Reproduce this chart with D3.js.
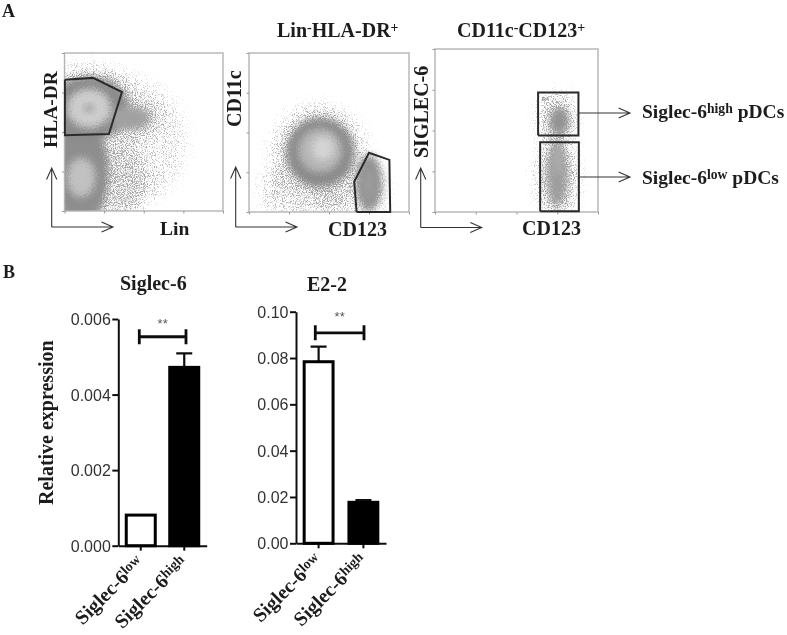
<!DOCTYPE html>
<html>
<head>
<meta charset="utf-8">
<script src="https://cdn.jsdelivr.net/npm/d3@7"></script>
<style>
  html, body { margin: 0; background: #fff; }
  svg { display: block; }
  .lab { font-family: "Liberation Serif", serif; font-weight: bold; fill: #1c1c1c; }
  .num { font-family: "Liberation Sans", sans-serif; fill: #333; }
</style>
</head>
<body>
<script>
// flow panels: every cloud is x, y, spread x, spread y (log decades) and a density 0..1
const flowTicks = [0, 1, 2, 3, 4]

const lin_sparse = [[1.3, 1.75, 1.8, 1.75, 0.5], [1.2, 0.7, 0.95, 1.0, 0.8], [1.6, 2.35, 0.85, 0.6, 0.8], [0.6, 2.95, 1.15, 0.75, 0.8]]
const lin_dense = [[0.4, 1.0, 0.72, 1.4, 0.52], [0.62, 2.6, 1.0, 0.82, 0.5], [1.65, 2.35, 0.52, 0.3, 0.4],
    [0.42, 0.85, 0.36, 0.5, 0.8], [0.62, 2.6, 0.56, 0.5, 0.86], [0.62, 2.6, 0.12, 0.1, 0.6]]
const lin_gate = [[0.01, 3.32], [0.72, 3.37], [1.45, 3.01], [1.12, 1.95], [0.01, 1.92], [0.01, 3.32]]

const cd11c_sparse = [[1.75, 1.5, 1.22, 1.2, 0.75], [1.35, 0.55, 1.15, 0.8, 0.6], [2.5, 0.5, 1.0, 0.7, 0.6], [1.75, 2.4, 0.5, 0.25, 0.35]]
const cd11c_dense = [[1.78, 1.5, 0.86, 0.88, 0.5], [3.0, 0.73, 0.34, 0.72, 0.46],
    [1.78, 1.55, 0.55, 0.56, 0.74], [1.85, 1.6, 0.28, 0.3, 0.9], [3.0, 0.7, 0.12, 0.38, 0.6]]
const cd11c_gate = [[2.69, 0], [2.63, 0.76], [3.0, 1.49], [3.51, 1.31], [3.53, 0], [2.69, 0]]

const siglec_sparse = [[3.0, 2.3, 0.48, 0.66, 0.95], [3.0, 0.86, 0.5, 1.05, 1], [3.0, 1.75, 0.34, 0.3, 0.9]]
const siglec_dense = [[3.05, 2.22, 0.24, 0.34, 0.46], [3.0, 0.95, 0.24, 0.8, 0.42], [3.02, 1.25, 0.08, 0.36, 0.72]]
const siglec_gates = [
    [[2.53, 1.88], [3.52, 1.88], [3.52, 2.93], [2.53, 2.93], [2.53, 1.88]],
    [[2.58, 0.02], [3.53, 0.02], [3.53, 1.71], [2.58, 1.71], [2.58, 0.02]],
]

// bar panels
const groups = ["Siglec-6low", "Siglec-6high"]
const siglec_values = [0.00081, 0.00472]
const siglec_errors = [0.00081, 0.00509]
const siglec_ticks = [0, 0.002, 0.004, 0.006]
const siglec_bracket = 0.00553
const e22_values = [0.0784, 0.0177]
const e22_errors = [0.0849, 0.0187]
const e22_ticks = [0, 0.02, 0.04, 0.06, 0.08, 0.1]
const e22_bracket = 0.0909

const density = d3.scaleLinear().domain([0, 0.5, 1]).range(["#ffffff", "#8a8a8a", "#e6e6e6"])

const svg = d3.select("body").append("svg").attr("width", 787).attr("height", 635)
const defs = svg.append("defs")

const soften = defs.append("filter").attr("id", "soften")
    .attr("filterUnits", "userSpaceOnUse").attr("x", 0).attr("y", 0).attr("width", 787).attr("height", 635)
soften.append("feGaussianBlur").attr("stdDeviation", 0.5)

// dense part of a cloud: blurred, edges roughened with noise
const smooth = defs.append("filter").attr("id", "smooth")
    .attr("x", "-30%").attr("y", "-30%").attr("width", "160%").attr("height", "160%")
smooth.append("feGaussianBlur").attr("in", "SourceGraphic").attr("stdDeviation", 3.5).attr("result", "soft")
smooth.append("feTurbulence").attr("type", "fractalNoise").attr("baseFrequency", 0.8)
    .attr("numOctaves", 2).attr("seed", 9).attr("result", "turb")
smooth.append("feDisplacementMap").attr("in", "soft").attr("in2", "turb").attr("scale", 9)
    .attr("xChannelSelector", "R").attr("yChannelSelector", "G")

// grain: blurred cloud alpha plus noise, thresholded, gives the dots of a dot plot
const speckle = defs.append("filter").attr("id", "speckle")
    .attr("x", "-30%").attr("y", "-30%").attr("width", "160%").attr("height", "160%")
    .attr("color-interpolation-filters", "sRGB")
speckle.append("feGaussianBlur").attr("in", "SourceGraphic").attr("stdDeviation", 8).attr("result", "soft")
speckle.append("feTurbulence").attr("type", "fractalNoise").attr("baseFrequency", 0.9)
    .attr("numOctaves", 2).attr("seed", 4).attr("result", "turb")
speckle.append("feColorMatrix").attr("in", "turb").attr("type", "matrix")
    .attr("values", "0 0 0 0 0  0 0 0 0 0  0 0 0 0 0  3.2 0 0 0 -1.2").attr("result", "noise")
speckle.append("feComposite").attr("in", "soft").attr("in2", "noise").attr("operator", "arithmetic")
    .attr("k1", 0).attr("k2", 1).attr("k3", 1).attr("k4", -1).attr("result", "mix")
const transfer = speckle.append("feComponentTransfer").attr("in", "mix").attr("result", "dots")
transfer.append("feFuncA").attr("type", "linear").attr("slope", 1.5).attr("intercept", 0)
speckle.append("feFlood").attr("flood-color", "#a6a6a6").attr("result", "tone")
speckle.append("feComposite").attr("in", "tone").attr("in2", "dots").attr("operator", "in")

const root = svg.append("g").attr("filter", "url(#soften)")

function label(x, y, text, size, rotate) {
    const t = root.append("text").attr("class", "lab")
        .attr("transform", `translate(${x},${y})` + (rotate ? ` rotate(${rotate})` : ""))
        .style("font-size", size + "px")
    for (const part of text) {
        // strings are plain, [string] is a superscript
        if (typeof part === "string") {
            t.append("tspan").text(part)
        } else {
            t.append("tspan").attr("baseline-shift", "35%").style("font-size", "0.7em").text(part[0])
        }
    }
    return t
}

function arrow(x1, y1, x2, y2) {
    const a = Math.atan2(y2 - y1, x2 - x1)
    const head = [a + 2.72, a - 2.72].map(b => [x2 + 12.5 * Math.cos(b), y2 + 12.5 * Math.sin(b)])
    root.append("path").attr("fill", "none").attr("stroke", "#333").attr("stroke-width", 1.1)
        .attr("d", `M${x1},${y1}L${x2},${y2}M${head[0]}L${x2},${y2}L${head[1]}`)
}

function flow_panel(id, box, sparse, dense, gates) {
    const x = d3.scaleLinear().domain([0, 4]).range([box.left, box.right])
    const y = d3.scaleLinear().domain([0, 4]).range([box.bottom, box.top])

    defs.append("clipPath").attr("id", id).append("rect")
        .attr("x", box.left).attr("y", box.top)
        .attr("width", box.right - box.left).attr("height", box.bottom - box.top)

    const g = root.append("g")
    const clip = g.append("g").attr("clip-path", `url(#${id})`)

    clip.append("g").attr("filter", "url(#speckle)").selectAll("ellipse").data(sparse).join("ellipse")
        .attr("cx", d => x(d[0])).attr("cy", d => y(d[1]))
        .attr("rx", d => x(d[2]) - x(0)).attr("ry", d => y(0) - y(d[3]))
        .attr("fill", "#000").attr("fill-opacity", d => d[4])

    clip.append("g").selectAll("ellipse").data(dense).join("ellipse")
        .attr("filter", "url(#smooth)")
        .attr("cx", d => x(d[0])).attr("cy", d => y(d[1]))
        .attr("rx", d => x(d[2]) - x(0)).attr("ry", d => y(0) - y(d[3]))
        .attr("fill", d => density(d[4]))

    g.append("rect").attr("x", box.left).attr("y", box.top)
        .attr("width", box.right - box.left).attr("height", box.bottom - box.top)
        .attr("fill", "none").attr("stroke", "#b4b4b4").attr("stroke-width", 1.4)

    const bottom = g.append("g").attr("transform", `translate(0,${box.bottom})`)
        .call(d3.axisBottom(x).tickValues(flowTicks).tickFormat("").tickSize(2.5))
    const left = g.append("g").attr("transform", `translate(${box.left},0)`)
        .call(d3.axisLeft(y).tickValues(flowTicks).tickFormat("").tickSize(2.5))
    bottom.select(".domain").remove()
    left.select(".domain").remove()
    g.selectAll(".tick line").attr("stroke", "#999")

    const line = d3.line().x(d => x(d[0])).y(d => y(d[1]))
    g.selectAll(".gate").data(gates).join("path").attr("class", "gate")
        .attr("d", line).attr("fill", "none").attr("stroke", "#2c2c2c").attr("stroke-width", 2)
    return { x, y }
}

function bar_panel(box, values, errors, ticks, fmt, bracket, pad) {
    const x = d3.scaleBand().domain(groups).range([box.left, box.right]).paddingInner(pad).paddingOuter(0.16)
    const y = d3.scaleLinear().domain([0, ticks[ticks.length - 1]]).range([box.bottom, box.top])
    const g = root.append("g")

    const yaxis = g.append("g").attr("transform", `translate(${box.left},0)`)
        .call(d3.axisLeft(y).tickValues(ticks).tickFormat(d3.format(fmt)).tickSize(6).tickSizeOuter(0))
    yaxis.selectAll("line,path").attr("stroke", "#111").attr("stroke-width", 2)
    yaxis.selectAll("text").attr("class", "num").style("font-size", "16px").attr("x", -7.5).attr("dy", "0.34em")

    const xaxis = g.append("g").attr("transform", `translate(0,${box.bottom})`)
        .call(d3.axisBottom(x).tickFormat("").tickSize(5).tickSizeOuter(0))
    xaxis.selectAll("line,path").attr("stroke", "#111").attr("stroke-width", 2)

    groups.forEach((name, i) => {
        const cx = x(name) + x.bandwidth() / 2
        g.append("path").attr("stroke", "#111").attr("stroke-width", 2.2)
            .attr("d", `M${cx},${y(values[i])}V${y(errors[i])}M${cx - 8},${y(errors[i])}H${cx + 8}`)
        g.append("rect").attr("x", x(name) + 1).attr("y", y(values[i]))
            .attr("width", x.bandwidth() - 2).attr("height", box.bottom - y(values[i]))
            .attr("fill", i ? "#000" : "#fff").attr("stroke", "#000").attr("stroke-width", 3)
        label(cx + 4, box.bottom + 18, ["Siglec-6", [name.slice(8)]], 20, -45).attr("text-anchor", "end")
    })

    const x1 = box.bracket[0], x2 = box.bracket[1], by = y(bracket)
    g.append("path").attr("fill", "none").attr("stroke", "#111").attr("stroke-width", 2.8)
        .attr("d", `M${x1},${by - 7.5}V${by + 7.5}M${x1},${by}H${x2}M${x2},${by - 7.5}V${by + 7.5}`)
    g.append("text").attr("class", "num").attr("x", (x1 + x2) / 2).attr("y", box.top + 9)
        .attr("text-anchor", "middle").style("font-size", "13px").style("fill", "#555").text("**")
}

// panel A
label(2, 17, ["A"], 18)
flow_panel("p1", { left: 64.5, right: 223, top: 53, bottom: 211 }, lin_sparse, lin_dense, [lin_gate])
flow_panel("p2", { left: 249, right: 409, top: 53, bottom: 212 }, cd11c_sparse, cd11c_dense, [cd11c_gate])
flow_panel("p3", { left: 435, right: 598, top: 49, bottom: 212 }, siglec_sparse, siglec_dense, siglec_gates)

root.append("text").attr("x", 541.5).attr("y", 101).attr("class", "num")
    .style("font-size", "6px").style("fill", "#777").text("R4")

label(277, 37, ["Lin", ["-"], "HLA-DR", ["+"]], 20)
label(457, 37, ["CD11c", ["-"], "CD123", ["+"]], 20)
label(57, 148, ["HLA-DR"], 19.5, -90)
label(160, 235, ["Lin"], 19.5)
label(241, 127, ["CD11c"], 20, -90)
label(328, 236, ["CD123"], 20)
label(428, 158, ["SIGLEC-6"], 20, -90)
label(522, 235, ["CD123"], 20)
label(642, 118, ["Siglec-6", ["high"], " pDCs"], 19.5)
label(642, 184, ["Siglec-6", ["low"], " pDCs"], 19.5)

arrow(51.7, 227, 51.7, 168)
arrow(51.7, 227, 113, 227)
arrow(235.7, 227, 235.7, 167)
arrow(235.7, 227, 297, 227)
arrow(420.7, 227.5, 420.7, 168)
arrow(420.7, 227.5, 481.7, 227.5)
arrow(578, 113, 630, 113)
arrow(580, 177, 630, 177)

// panel B
label(3, 278, ["B"], 18)
label(120, 290, ["Siglec-6"], 20)
label(307, 291, ["E2-2"], 20)
label(53, 505, ["Relative expression"], 20, -90)

bar_panel({ left: 118.3, right: 206.7, top: 319, bottom: 545.7, bracket: [139.3, 186] },
    siglec_values, siglec_errors, siglec_ticks, ".3f", siglec_bracket, 0.287)
bar_panel({ left: 296, right: 386, top: 311.7, bottom: 543.3, bracket: [315.3, 364] },
    e22_values, e22_errors, e22_ticks, ".2f", e22_bracket, 0.31)
</script>
</body>
</html>
